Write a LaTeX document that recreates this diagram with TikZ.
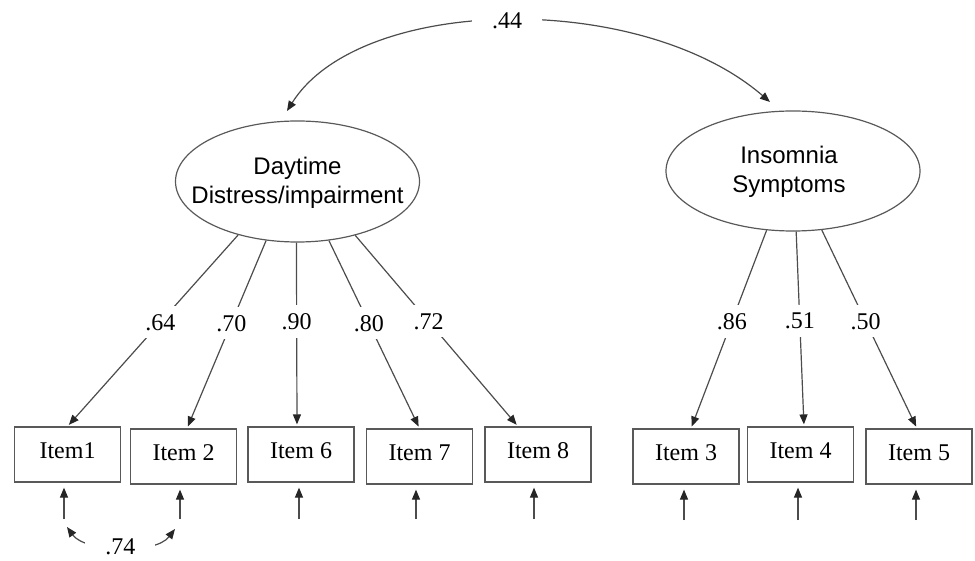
\documentclass[tikz,border=0pt]{standalone}
\usepackage{fontspec}
\setmainfont{Liberation Serif}
\newfontfamily\arialfont{Liberation Sans}
\usetikzlibrary{shapes.geometric,arrows.meta}
\begin{document}
\begin{tikzpicture}[x=1pt,y=-1pt,
  line width=1.2pt,
  tipshape/.style={},
  conn/.style={draw=black!70, -{Triangle[length=10pt,width=8pt,color=black!85]}, shorten >=2pt},
  errarrow/.style={draw=black!70, -{Triangle[length=10pt,width=8pt,color=black!85]}, shorten >=5pt},
  covarrow/.style={draw=black!70, {Triangle[length=10pt,width=8pt,color=black!85]}-{Triangle[length=10pt,width=8pt,color=black!85]}},
  latent/.style={ellipse, draw=black!65, line width=1.2pt, inner sep=0},
  latenttext/.style={align=center, inner sep=0, font=\arialfont\fontsize{24}{29}\selectfont},
  itembox/.style={draw=black!65, minimum width=106pt, minimum height=55pt, inner sep=0, text depth=7pt, font=\fontsize{24}{28}\selectfont},
  lbl/.style={fill=white, inner xsep=2pt, inner ysep=8pt, font=\fontsize{24}{28}\selectfont},
  widelbl/.style={fill=white, inner xsep=20pt, inner ysep=3pt, font=\fontsize{24}{28}\selectfont}
]
\useasboundingbox (0,0) rectangle (975,561);

% latent variables
\node[latent, minimum width=244pt, minimum height=121pt] (e1) at (297.5,181.5) {};
\node[latenttext] (t1) at (297.5,183) {Daytime\\Distress/impairment};
\node[latent, minimum width=254pt, minimum height=120pt] (e2) at (793,171) {};
\node[latenttext] (t2) at (789,172) {Insomnia\\Symptoms};

% items
\node[itembox] (i1) at (67.5,454.5) {Item1};
\node[itembox] (i2) at (183.5,456.5) {Item 2};
\node[itembox] (i6) at (301,454.5) {Item 6};
\node[itembox] (i7) at (419.5,456.5) {Item 7};
\node[itembox] (i8) at (538,454.5) {Item 8};
\node[itembox] (i3) at (686,456.5) {Item 3};
\node[itembox] (i4) at (800.5,454.5) {Item 4};
\node[itembox] (i5) at (919,456.5) {Item 5};

% loadings
\draw[conn] (e1.222) -- node[lbl,pos=0.456] {.64} (i1.north);
\draw[conn] (e1.242) -- node[lbl,pos=0.44] {.70} ([xshift=3.5pt]i2.north);
\draw[conn] (e1.269) -- node[lbl,pos=0.43] {.90} ([xshift=-4pt]i6.north);
\draw[conn] (e1.298) -- node[lbl,pos=0.44] {.80} (i7.north);
\draw[conn] (e1.317) -- node[lbl,pos=0.45] {.72} ([xshift=-20pt]i8.north);
\draw[conn] (e2.246) -- node[lbl,pos=0.46] {.86} ([xshift=5pt]i3.north);
\draw[conn] (e2.273) -- node[lbl,pos=0.46] {.51} ([xshift=3.5pt]i4.north);
\draw[conn] (e2.296) -- node[lbl,pos=0.46] {.50} ([xshift=-2pt]i5.north);

% factor covariance
\coordinate (f1) at (287,111);
\coordinate (f2) at (770,102);
\draw[covarrow] (f1) .. controls (360,-5) and (640,-10) .. node[widelbl,pos=0.5] {.44} (f2);

% error terms
\coordinate (r1) at (64,519);
\coordinate (r2) at (180,519);
\coordinate (r6) at (299,519);
\coordinate (r7) at (416,519);
\coordinate (r8) at (534,519);
\coordinate (r3) at (684,520);
\coordinate (r4) at (798,520);
\coordinate (r5) at (916,520);
\draw[errarrow] (r1) -- (r1 |- i1.south);
\draw[errarrow] (r2) -- (r2 |- i2.south);
\draw[errarrow] (r6) -- (r6 |- i6.south);
\draw[errarrow] (r7) -- (r7 |- i7.south);
\draw[errarrow] (r8) -- (r8 |- i8.south);
\draw[errarrow] (r3) -- (r3 |- i3.south);
\draw[errarrow] (r4) -- (r4 |- i4.south);
\draw[errarrow] (r5) -- (r5 |- i5.south);

% error covariance
\coordinate (c1) at (67,527);
\coordinate (c2) at (175,529);
\draw[covarrow] (c1) .. controls (85,552) and (155,555) .. node[widelbl,pos=0.5] {.74} (c2);
\end{tikzpicture}
\end{document}
